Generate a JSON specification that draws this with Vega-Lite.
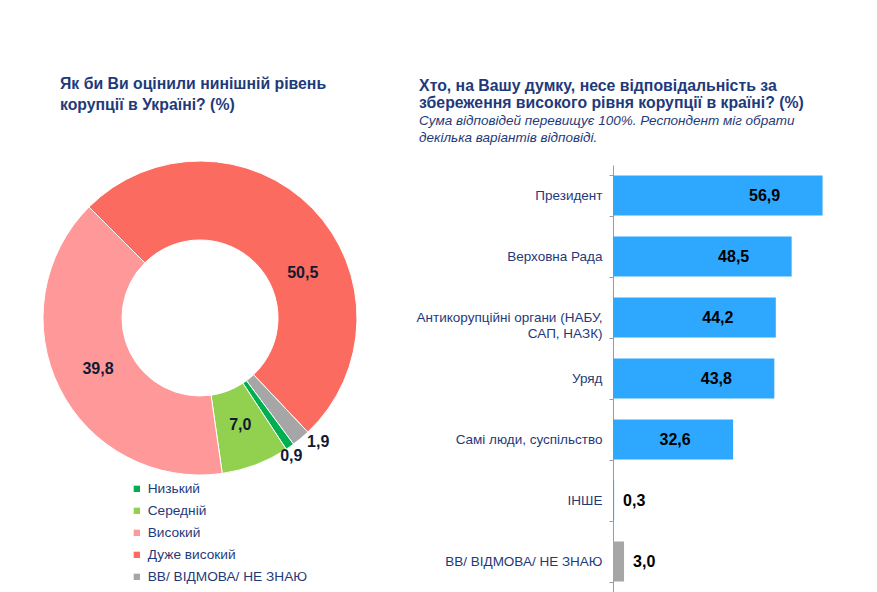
{
  "$schema": "https://vega.github.io/schema/vega-lite/v6.json",
  "background": "white",
  "padding": {"left": 41, "top": 76, "right": 0, "bottom": 0},
  "spacing": 57,
  "center": false,
  "bounds": "full",
  "config": {
    "view": {"stroke": null},
    "font": "Liberation Sans"
  },
  "hconcat": [
    {
      "width": 314,
      "height": 306,
      "title": {
        "text": ["Як би Ви оцінили нинішній рівень", "корупції в Україні? (%)"],
        "anchor": "start",
        "frame": "group",
        "dx": 17,
        "fontSize": 15.8,
        "fontWeight": "bold",
        "color": "#1f3a7a",
        "lineHeight": 21,
        "offset": 45
      },
      "data": {
        "values": [
          {"level": "Дуже високий", "pct": 50.5},
          {"level": "ВВ/ ВІДМОВА/ НЕ ЗНАЮ", "pct": 1.9},
          {"level": "Низький", "pct": 0.9},
          {"level": "Середній", "pct": 7.0},
          {"level": "Високий", "pct": 39.8}
        ]
      },
      "transform": [
        {"calculate": "indexof(['Дуже високий','ВВ/ ВІДМОВА/ НЕ ЗНАЮ','Низький','Середній','Високий'], datum.level)", "as": "seq"},
        {"calculate": "replace(format(datum.pct, '.1f'), '.', ',')", "as": "lab"}
      ],
      "encoding": {
        "theta": {"field": "pct", "type": "quantitative", "stack": true, "scale": {"range": [-0.7854, 5.4978]}},
        "order": {"field": "seq", "type": "quantitative"},
        "detail": {"field": "level"}
      },
      "layer": [
        {
          "mark": {"type": "arc", "innerRadius": 78, "outerRadius": 157, "stroke": "white", "strokeWidth": 1},
          "encoding": {
            "color": {
              "field": "level",
              "type": "nominal",
              "scale": {
                "domain": ["Низький", "Середній", "Високий", "Дуже високий", "ВВ/ ВІДМОВА/ НЕ ЗНАЮ"],
                "range": ["#00b050", "#92d050", "#ff9999", "#fb6b5f", "#a6a6a6"]
              },
              "legend": {
                "orient": "none",
                "legendX": 87,
                "legendY": 317,
                "title": null,
                "symbolType": "square",
                "symbolSize": 40,
                "symbolStrokeWidth": 0,
                "labelFontSize": 13.7,
                "labelColor": "#1f3a7a",
                "labelOffset": 4,
                "rowPadding": 7
              }
            }
          }
        },
        {
          "mark": {"type": "text", "radius": 114, "fontSize": 16, "fontWeight": "bold", "color": "#111a33"},
          "encoding": {
            "text": {"condition": {"test": "datum.pct >= 5 && datum.level != 'Дуже високий'", "field": "lab"}, "value": ""}
          }
        },
        {
          "mark": {"type": "text", "radius": 114, "dx": 21, "dy": 34, "fontSize": 16, "fontWeight": "bold", "color": "#111a33"},
          "encoding": {
            "text": {"condition": {"test": "datum.level == 'Дуже високий'", "field": "lab"}, "value": ""}
          }
        },
        {
          "mark": {"type": "text", "radius": 170, "dx": 9, "dy": -6, "fontSize": 16, "fontWeight": "bold", "color": "#111a33"},
          "encoding": {
            "text": {"condition": {"test": "datum.level == 'ВВ/ ВІДМОВА/ НЕ ЗНАЮ'", "field": "lab"}, "value": ""}
          }
        },
        {
          "mark": {"type": "text", "radius": 170, "dx": -6, "dy": -1, "fontSize": 16, "fontWeight": "bold", "color": "#111a33"},
          "encoding": {
            "text": {"condition": {"test": "datum.level == 'Низький'", "field": "lab"}, "value": ""}
          }
        }
      ]
    },
    {
      "width": 221,
      "height": 427,
      "title": {
        "text": ["Хто, на Вашу думку, несе відповідальність за", "збереження високого рівня корупції в країні? (%)"],
        "subtitle": ["Сума відповідей перевищує 100%. Респондент міг обрати", "декілька варіантів відповіді."],
        "anchor": "start",
        "frame": "bounds",
        "dx": 3,
        "fontSize": 15.8,
        "fontWeight": "bold",
        "color": "#1f3a7a",
        "lineHeight": 17,
        "subtitleFontSize": 13.5,
        "subtitleFontStyle": "italic",
        "subtitleColor": "#1f3a7a",
        "subtitleLineHeight": 17,
        "subtitlePadding": 2,
        "offset": 13
      },
      "data": {
        "values": [
          {"who": "Президент", "pct": 56.9},
          {"who": "Верховна Рада", "pct": 48.5},
          {"who": "Антикорупційні органи (НАБУ, САП, НАЗК)", "pct": 44.2},
          {"who": "Уряд", "pct": 43.8},
          {"who": "Самі люди, суспільство", "pct": 32.6},
          {"who": "ІНШЕ", "pct": 0.3},
          {"who": "ВВ/ ВІДМОВА/ НЕ ЗНАЮ", "pct": 3.0}
        ]
      },
      "transform": [
        {"calculate": "replace(format(datum.pct, '.1f'), '.', ',')", "as": "lab"}
      ],
      "encoding": {
        "y": {
          "field": "who",
          "type": "nominal",
          "sort": null,
          "scale": {"paddingInner": 0.344},
          "axis": {
            "title": null,
            "labelFontSize": 13.5,
            "labelColor": "#1f3a7a",
            "labelPadding": 7,
            "labelLimit": 300,
            "labelLineHeight": 16,
            "labelExpr": "datum.label == 'Антикорупційні органи (НАБУ, САП, НАЗК)' ? ['Антикорупційні органи (НАБУ,', 'САП, НАЗК)'] : datum.label",
            "tickSize": 4,
            "tickBand": "extent",
            "tickColor": "#9a9aae",
            "domainColor": "#9a9aae"
          }
        },
        "x": {"field": "pct", "type": "quantitative", "scale": {"domain": [0, 60]}, "axis": null}
      },
      "layer": [
        {
          "mark": {"type": "bar"},
          "encoding": {
            "color": {"condition": {"test": "datum.who == 'ВВ/ ВІДМОВА/ НЕ ЗНАЮ'", "value": "#a6a6a6"}, "value": "#2ea8ff"}
          }
        },
        {
          "transform": [{"filter": "datum.pct >= 10"}],
          "mark": {"type": "text", "align": "center", "baseline": "middle", "dx": -58, "fontSize": 16, "fontWeight": "bold", "color": "black"},
          "encoding": {"text": {"field": "lab"}}
        },
        {
          "transform": [{"filter": "datum.pct < 10"}],
          "mark": {"type": "text", "align": "left", "baseline": "middle", "dx": 9, "fontSize": 16, "fontWeight": "bold", "color": "black"},
          "encoding": {"text": {"field": "lab"}}
        }
      ]
    }
  ]
}
